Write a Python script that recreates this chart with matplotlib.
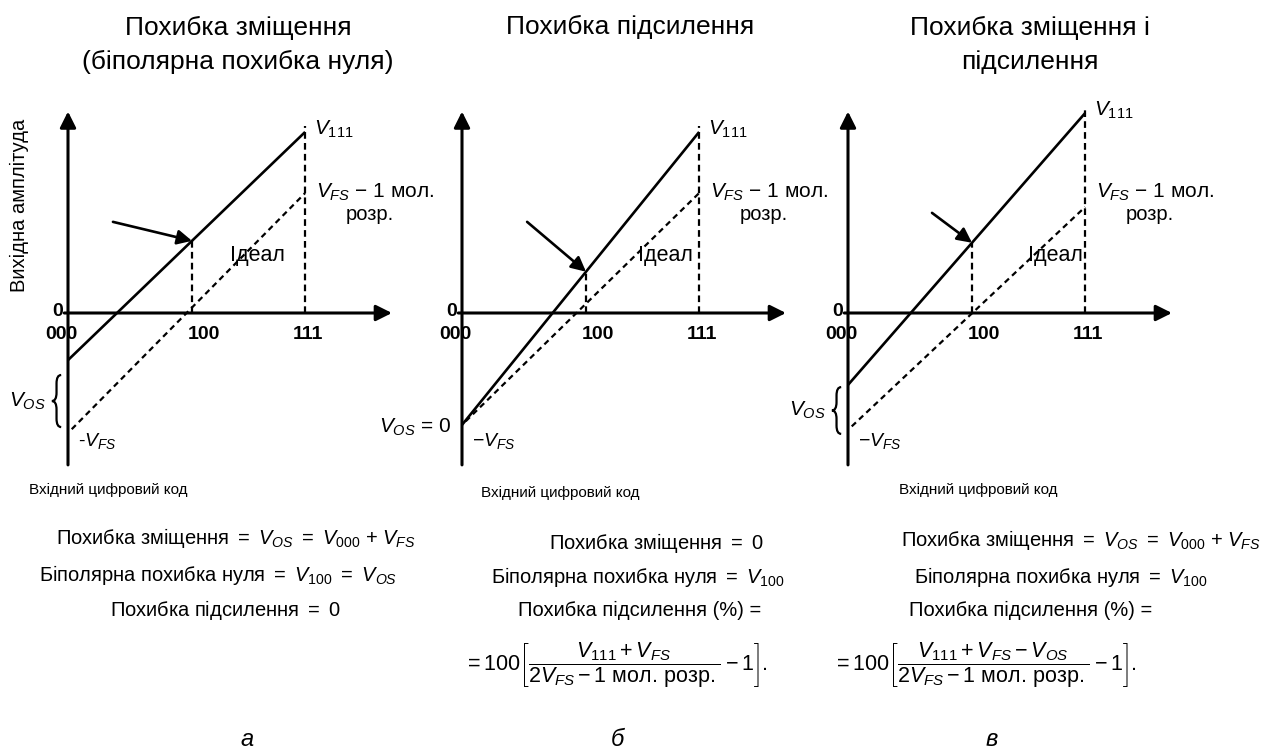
import numpy as np
import matplotlib.pyplot as plt
from matplotlib.path import Path
from matplotlib.patches import PathPatch

plt.rcParams['font.family'] = ['Liberation Sans', 'DejaVu Sans']
plt.rcParams['mathtext.fontset'] = 'custom'
plt.rcParams['mathtext.rm'] = 'Liberation Sans'
plt.rcParams['mathtext.it'] = 'Liberation Sans:italic'
plt.rcParams['mathtext.bf'] = 'Liberation Sans:bold'

W, H = 1267, 753
S = 31.0  # pixels per diagram unit

# input codes and where they sit along the code axis
codes = ['000', '100', '111']
code_x = [0, 4, 7.65]

# DAC output at code 000 and 111 for the three cases (a, b, c)
out_000 = [-1.52, -3.61, -2.32]
out_111 = [5.84, 5.84, 6.45]
# ideal transfer line: -V_FS at 000, V_FS - 1 LSB at 111
ideal_000 = [-3.87, -3.61, -3.77]
ideal_111 = [3.87, 3.87, 3.42]

titles = ['Похибка зміщення\n(біполярна похибка нуля)',
          'Похибка підсилення',
          'Похибка зміщення і\nпідсилення']
letters = ['а', 'б', 'в']
neg_fs = ['-$V_{FS}$', '−$V_{FS}$', '−$V_{FS}$']

formulas = [
    ['Похибка зміщення $=$ $V_{OS}$ $=$ $V_{000}$ $+$ $V_{FS}$',
     'Біполярна похибка нуля $=$ $V_{100}$ $=$ $V_{OS}$',
     'Похибка підсилення $=$ 0'],
    ['Похибка зміщення $=$ 0',
     'Біполярна похибка нуля $=$ $V_{100}$',
     'Похибка підсилення (%) =',
     r'$=100\left[\dfrac{V_{111}+V_{FS}}{2V_{FS}-1\ \mathrm{мол.\,розр.}}-1\right].$'],
    ['Похибка зміщення $=$ $V_{OS}$ $=$ $V_{000}$ $+$ $V_{FS}$',
     'Біполярна похибка нуля $=$ $V_{100}$',
     'Похибка підсилення (%) =',
     r'$=100\left[\dfrac{V_{111}+V_{FS}-V_{OS}}{2V_{FS}-1\ \mathrm{мол.\,розр.}}-1\right].$'],
]

# layout in pixels
origins = [(68, 313), (462, 313), (848, 313)]
title_x = [238, 630, 1030]
title_y = [45, 27, 45]
xlabel_pos = [(108, 490), (560, 493), (978, 490)]
formula_x = [[236, 218, 225], [656, 638, 640, 616], [1081, 1061, 1031, 985]]
formula_y = [[538, 575, 610], [543, 577, 610, 665], [540, 577, 610, 665]]
letter_x = [247, 617, 992]
ideal_label_x = [6.1, 6.55, 6.68]
arrow_from = [(1.45, 2.94), (2.10, 2.94), (2.71, 3.23)]
brace_span = [(-3.68, -2.0), None, (-3.9, -2.39)]

fig = plt.figure(figsize=(W / 100, H / 100), dpi=100)
fig.patch.set_facecolor('white')


def brace(ax, x, y0, y1, w):
    ym = (y0 + y1) / 2
    q = w * 0.9
    xm = x + w / 2
    verts = [(x + w, y1), (xm, y1), (xm, y1 - q), (xm, ym + q),
             (xm, ym), (x, ym), (xm, ym), (xm, ym - q),
             (xm, y0 + q), (xm, y0), (x + w, y0)]
    cmds = [Path.MOVETO, Path.CURVE3, Path.CURVE3, Path.LINETO,
            Path.CURVE3, Path.CURVE3, Path.CURVE3, Path.CURVE3,
            Path.LINETO, Path.CURVE3, Path.CURVE3]
    ax.add_patch(PathPatch(Path(verts, cmds), fc='none', ec='k', lw=1.6))


for i, (ox, oy) in enumerate(origins):
    ax = fig.add_axes([0, 0, 1, 1])
    ax.set_xlim(-ox / S, (W - ox) / S)
    ax.set_ylim(-(H - oy) / S, oy / S)
    ax.axis('off')
    ax.patch.set_alpha(0)

    # axes with arrow heads
    ax.annotate('', xy=(10.45, 0), xytext=(-0.12, 0),
                arrowprops=dict(arrowstyle='-|>', color='k', lw=2.2,
                                mutation_scale=24, shrinkA=0, shrinkB=0))
    ax.annotate('', xy=(0, 6.5), xytext=(0, -4.9),
                arrowprops=dict(arrowstyle='-|>', color='k', lw=2.2,
                                mutation_scale=24, shrinkA=0, shrinkB=0))

    xs = [code_x[0], code_x[2]]
    real = [out_000[i], out_111[i]]
    ideal = [ideal_000[i], ideal_111[i]]
    v100 = np.interp(code_x[1], xs, real)

    ax.plot(xs, real, color='k', lw=1.9, solid_capstyle='butt')
    ax.plot([0.12, code_x[2]], [np.interp(0.12, xs, ideal), ideal[1]],
            color='k', lw=1.6, ls=(0, (2.6, 1.9)))
    ax.plot([code_x[1], code_x[1]], [0, v100], color='k', lw=1.6,
            ls=(0, (3.0, 1.9)))
    ax.plot([code_x[2], code_x[2]], [0, real[1] + 0.2], color='k', lw=1.6,
            ls=(0, (3.0, 1.9)))

    # pointer to the bipolar zero point
    ax.annotate('', xy=(code_x[1], v100), xytext=arrow_from[i],
                arrowprops=dict(arrowstyle='-|>', color='k', lw=1.9,
                                mutation_scale=22, shrinkA=0, shrinkB=0))

    # code labels
    ax.text(-0.15, 0.05, '0', fontsize=14, fontweight='bold', ha='right', va='center')
    for cx, lab, dx in zip(code_x, codes, [-0.2, 0.4, 0.1]):
        ax.text(cx + dx, -0.68, lab, fontsize=14, fontweight='bold',
                ha='center', va='center')

    ax.text(code_x[2] + 0.3, real[1] + 0.1, '$V_{111}$', fontsize=15, va='center')
    ax.text(code_x[2] + 0.35, 3.88, '$V_{FS}$ − 1 мол.', fontsize=15, va='center')
    ax.text(code_x[2] + 1.3, 3.18, 'розр.', fontsize=14.5, va='center')
    ax.text(ideal_label_x[i], 1.87, 'Ідеал', fontsize=15.5, ha='center', va='center')
    ax.text(0.32, -4.12, neg_fs[i], fontsize=14, va='center')

    if i == 1:
        ax.text(-0.35, -3.68, '$V_{OS}$ = 0', fontsize=15, ha='right', va='center')
    else:
        y0, y1 = brace_span[i]
        brace(ax, -0.52, y0, y1, 0.3)
        ax.text(-0.72, (y0 + y1) / 2, '$V_{OS}$', fontsize=15, ha='right', va='center')

    if i == 0:
        ax.text(-1.55, 3.48, 'Вихідна амплітуда', fontsize=14.5, rotation=90,
                ha='center', va='center')

    # titles, axis caption and formulas
    fig.text(title_x[i] / W, 1 - title_y[i] / H, titles[i], fontsize=19, ha='center',
             va='center', linespacing=1.5)
    fig.text(xlabel_pos[i][0] / W, 1 - xlabel_pos[i][1] / H, 'Вхідний цифровий код',
             fontsize=11, ha='center', va='center')
    for txt, fx, fy in zip(formulas[i], formula_x[i], formula_y[i]):
        fs = 15.5 if txt.startswith('$=100') else 14.5
        fig.text(fx / W, 1 - fy / H, txt, fontsize=fs, ha='center', va='center')
    fig.text(letter_x[i] / W, 1 - 740 / H, letters[i], fontsize=17,
             style='italic', ha='center', va='center')

fig.savefig('out.png', dpi=100)
